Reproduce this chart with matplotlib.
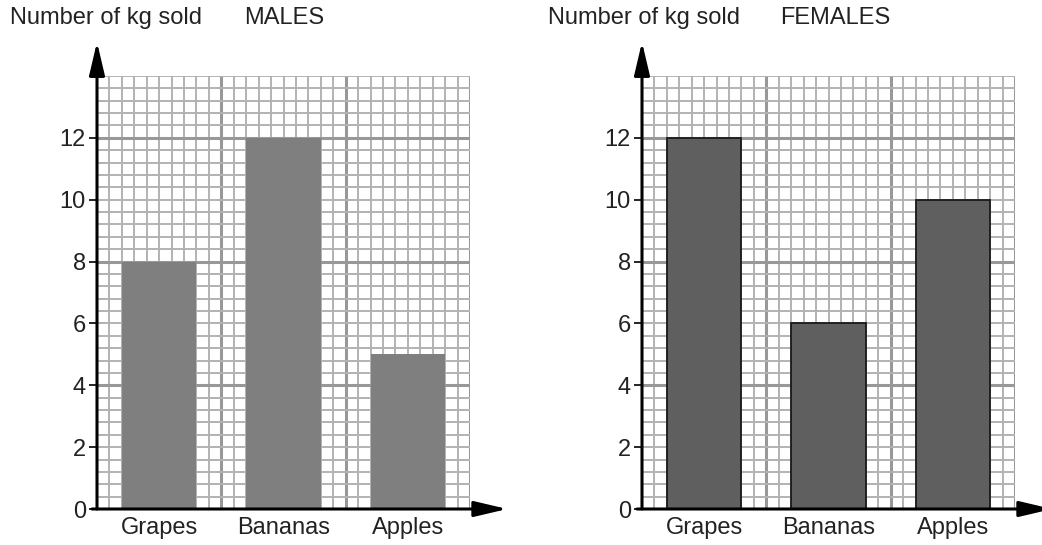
import matplotlib
matplotlib.use("Agg")
import matplotlib.pyplot as plt
import numpy as np

plt.rcParams['font.family'] = ['Liberation Sans', 'DejaVu Sans']

categories = ["Grapes", "Bananas", "Apples"]
males = [8, 12, 5]
females = [12, 6, 10]
y_ticks = [0, 2, 4, 6, 8, 10, 12, 14]
y_labels = ["0", "2", "4", "6", "8", "10", "12", ""]
ylabel_text = "Number of kg sold"

W, H = 1042, 545
fig = plt.figure(figsize=(W / 100, H / 100), dpi=100)
fig.patch.set_facecolor("white")

CELLS = 30
YMAX = 14
positions = [5, 15, 25]
FS = 17


def panel(x0px, values, title, title_x, label_x, color, edge):
    ax = fig.add_axes([x0px / W, (H - 509) / H, 373 / W, 433 / H])
    ax.set_xlim(0, CELLS)
    ax.set_ylim(0, YMAX)
    for s in ax.spines.values():
        s.set_visible(False)
    # grid
    for i in range(1, CELLS + 1):
        major = (i % 10 == 0)
        ax.plot([i, i], [0, YMAX], color="#989898" if major else "#b2b2b2",
                lw=2.2 if major else 1.4, zorder=1, solid_capstyle="butt")
    for j in range(1, 36):
        y = j * 0.4
        major = (j % 10 == 0)
        ax.plot([0, CELLS], [y, y], color="#989898" if major else "#b2b2b2",
                lw=2.2 if major else 1.4, zorder=1, solid_capstyle="butt")
    # bars
    ax.bar(positions, values, width=6, color=color,
           edgecolor=edge if edge else color,
           linewidth=1.3 if edge else 0, zorder=3)
    # axes arrows
    ax.annotate("", xy=(0, 15.1), xytext=(0, 0),
                arrowprops=dict(arrowstyle="-|>,head_length=2.0,head_width=0.47",
                                mutation_scale=10, lw=2.2, color="black",
                                shrinkA=0, shrinkB=0),
                annotation_clip=False, zorder=5)
    ax.annotate("", xy=(33.0, 0), xytext=(-0.4, 0),
                arrowprops=dict(arrowstyle="-|>,head_length=2.0,head_width=0.47",
                                mutation_scale=10, lw=2.2, color="black",
                                shrinkA=0, shrinkB=0),
                annotation_clip=False, zorder=5)
    ax.set_yticks(y_ticks)
    ax.set_yticklabels(y_labels)
    ax.tick_params(axis="y", length=6, width=1.2, color="black", pad=2,
                   labelsize=FS, labelcolor="#222222")
    ax.set_xticks(positions)
    ax.set_xticklabels(categories)
    ax.tick_params(axis="x", length=0, pad=6, labelsize=FS, labelcolor="#222222")
    fig.text(label_x / W, 1 - 18 / H, ylabel_text, fontsize=FS, color="#222222",
             ha="left", va="center")
    fig.text(title_x / W, 1 - 18 / H, title, fontsize=FS, color="#222222",
             ha="left", va="center")
    return ax


panel(97, males, "MALES", 244, 10, "#7f7f7f", None)
panel(642, females, "FEMALES", 780, 548, "#5f5f5f", "#1a1a1a")

fig.savefig("out.png", dpi=100, facecolor="white")
